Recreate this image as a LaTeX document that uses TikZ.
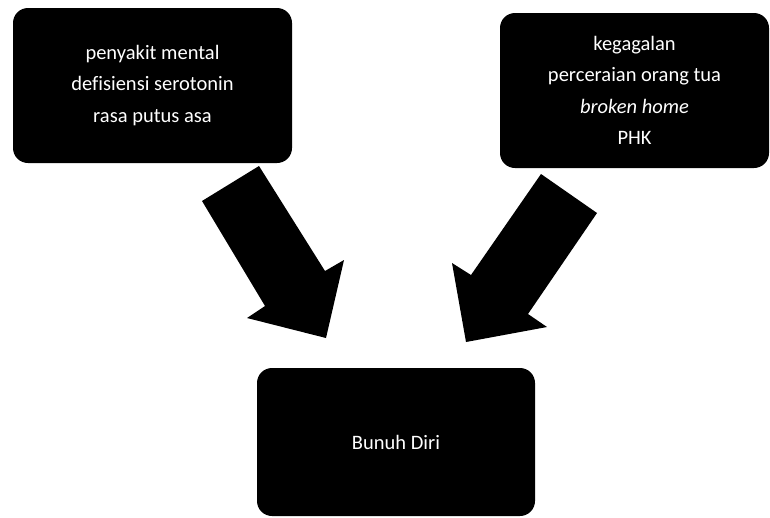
\documentclass[tikz,border=0pt]{standalone}
\usepackage{fontspec}
\setmainfont{Carlito}[Ligatures=NoCommon]
\begin{document}
\begin{tikzpicture}[x=1pt,y=-1pt,
  blackbox/.style={fill=black,draw=none,rounded corners=15pt,inner sep=0pt,
    text=white,align=center,font=\fontsize{20.5}{31.5}\selectfont},
  blockarrow/.style={fill=black,draw=none}]
\useasboundingbox (0,0) rectangle (770,517);
\node[blackbox,minimum width=279pt,minimum height=155pt] (causeA) at (152.5,85.5)
  {penyakit mental\\defisiensi serotonin\\rasa putus asa};
\node[blackbox,minimum width=269pt,minimum height=155pt] (causeB) at (634.5,90.5)
  {kegagalan\\perceraian orang tua\\\textit{broken home}\\PHK};
\node[blackbox,minimum width=278pt,minimum height=148pt] (result) at (396,442)
  {Bunuh Diri};
% left block arrow
\coordinate (a1) at (259,166);
\coordinate (a2) at (202,201);
\coordinate (a3) at (265,306);
\coordinate (a4) at (247,318);
\coordinate (a5) at (326,338);
\coordinate (a6) at (344,260);
\coordinate (a7) at (325,271);
\fill[blockarrow] (a1) -- (a2) -- (a3) -- (a4) -- (a5) -- (a6) -- (a7) -- cycle;
% right block arrow
\coordinate (b1) at (541,174);
\coordinate (b2) at (597,213);
\coordinate (b3) at (528,314);
\coordinate (b4) at (547,327);
\coordinate (b5) at (466,342);
\coordinate (b6) at (452,263);
\coordinate (b7) at (471,275);
\fill[blockarrow] (b1) -- (b2) -- (b3) -- (b4) -- (b5) -- (b6) -- (b7) -- cycle;
\end{tikzpicture}
\end{document}
